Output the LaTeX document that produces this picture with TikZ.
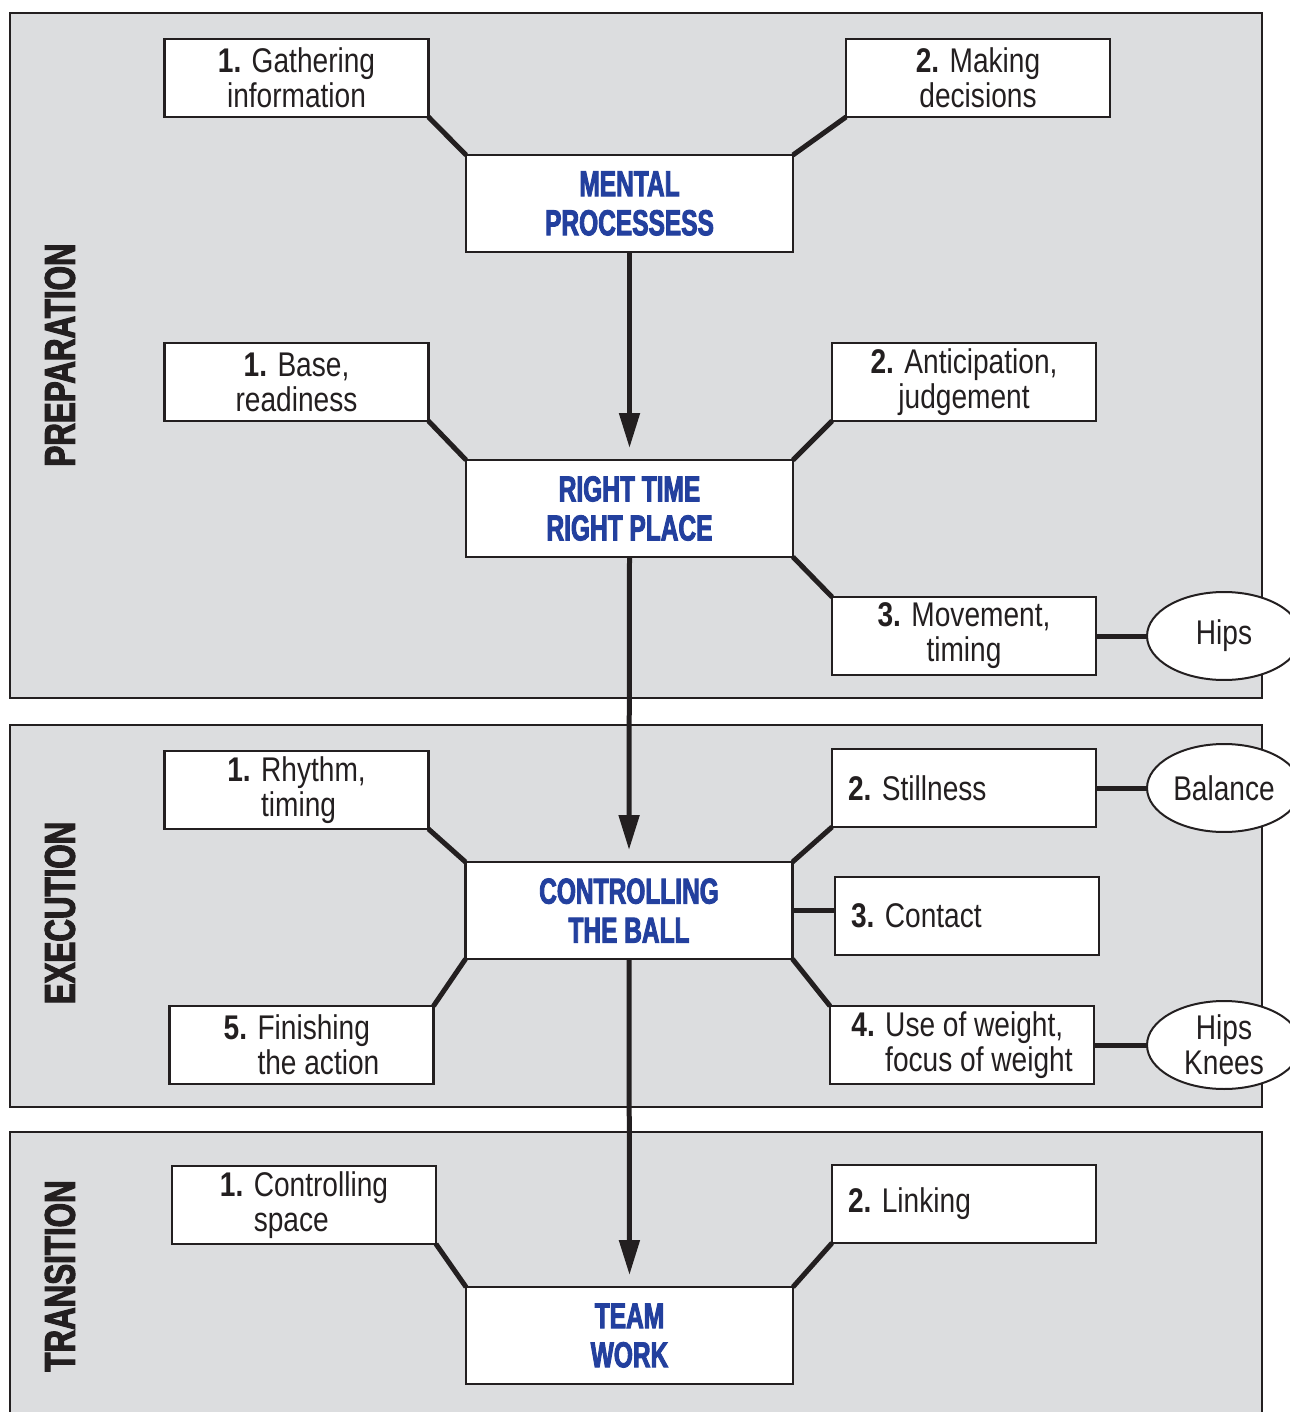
\documentclass[tikz,border=0pt]{standalone}
\usepackage{fontspec}
\setmainfont[FakeStretch=0.82]{Liberation Sans}
\newfontfamily\headfont[FakeStretch=0.68, BoldFeatures={FakeBold=2.5}]{Liberation Sans}
\newfontfamily\sidefont[FakeStretch=0.73, BoldFeatures={FakeBold=2.5}]{Liberation Sans}
\usepackage{tikz}
\usetikzlibrary{arrows.meta,shapes.geometric}
\definecolor{panelgray}{RGB}{220,221,223}
\definecolor{headblue}{RGB}{35,64,158}
\definecolor{inkblack}{RGB}{35,31,32}

\begin{document}
\begin{tikzpicture}[x=0.02cm,y=-0.02cm,
  every node/.style={outer sep=0pt},
  panel/.style={fill=panelgray, draw=inkblack, line width=0.04cm},
  item/.style={draw=inkblack, fill=white, line width=0.055cm, minimum width=5.28cm, minimum height=1.56cm, inner sep=0pt, align=center, text=inkblack, font=\fontsize{19.5}{20}\selectfont},
  itemleft/.style={item, text width=4.64cm, inner xsep=0.32cm, align=flush left},
  hub/.style={draw=inkblack, fill=white, line width=0.055cm, minimum width=6.54cm, minimum height=1.94cm, inner sep=0pt, align=center, text=headblue, font=\headfont\bfseries\fontsize{20.5}{22.2}\selectfont},
  body/.style={ellipse, draw=inkblack, fill=white, line width=0.04cm, minimum width=3.08cm, minimum height=1.76cm, inner sep=0pt, align=center, text=inkblack, font=\fontsize{19.5}{20}\selectfont},
  side/.style={rotate=90, text=inkblack, font=\sidefont\bfseries\fontsize{24.4}{26}\selectfont},
  link/.style={draw=inkblack, line width=0.1cm},
  flow/.style={draw=inkblack, line width=0.1cm, -{Triangle[length=0.7cm,width=0.4cm]}, shorten >=0.24cm}]
\clip (0,0) rectangle (1290,1412);

\draw[panel] (10,13) rectangle (1262,698);
\draw[panel] (10,725) rectangle (1262,1107);
\draw[panel] (10,1132) rectangle (1262,1440);

\node[side] (prep) at (60,355) {PREPARATION};
\node[side] (exec) at (60,913) {EXECUTION};
\node[side] (trans) at (60,1276) {TRANSITION};

\node[item] (g1) at (296.5,78) {\textbf{1.} Gathering\\information};
\node[item] (g2) at (978,78) {\textbf{2.} Making\\decisions};
\node[hub] (mp) at (629.5,203.5) {MENTAL\\PROCESSESS};
\node[item] (b1) at (296.5,382) {\textbf{1.} Base,\\readiness};
\node[item] (b2) at (964,382) {\textbf{2.} Anticipation,\\judgement};
\node[hub] (rt) at (629.5,508.5) {RIGHT TIME\\RIGHT PLACE};
\node[item] (b3) at (964,636) {\textbf{3.} Movement,\\timing};
\node[body] (hips) at (1224,636) {Hips};

\node[item, align=left] (e1) at (296.5,790) {\textbf{1.} Rhythm,\\\hphantom{\textbf{1.} }timing};
\node[itemleft] (e2) at (964,788) {\textbf{2.} Stillness};
\node[body] (balance) at (1224,788) {Balance};
\node[hub] (cb) at (629,910.5) {CONTROLLING\\THE BALL};
\node[itemleft] (e3) at (967,916) {\textbf{3.} Contact};
\node[item, align=left] (e4) at (962,1045) {\textbf{4.} Use of weight,\\\hphantom{\textbf{4.} }focus of weight};
\node[body] (knees) at (1224,1045) {Hips\\Knees};
\node[item, align=left] (e5) at (301.5,1045) {\textbf{5.} Finishing\\\hphantom{\textbf{5.} }the action};

\node[item, align=left] (t1) at (304,1205) {\textbf{1.} Controlling\\\hphantom{\textbf{1.} }space};
\node[itemleft] (t2) at (964,1204) {\textbf{2.} Linking};
\node[hub] (tw) at (629.5,1335.5) {TEAM\\WORK};

\draw[link] (g1.south east) -- (mp.north west);
\draw[link] (g2.south west) -- (mp.north east);
\draw[link] (b1.south east) -- (rt.north west);
\draw[link] (b2.south west) -- (rt.north east);
\draw[link] (rt.south east) -- (b3.north west);
\draw[link] (b3.east) -- (hips.west);
\draw[link] (e1.south east) -- (cb.north west);
\draw[link] (e2.south west) -- (cb.north east);
\draw[link] (e2.east) -- (balance.west);
\draw[link] (cb.east) -- (cb.east -| e3.west);
\draw[link] (cb.south east) -- (e4.north west);
\draw[link] (cb.south west) -- (e5.north east);
\draw[link] (e4.east) -- (knees.west);
\draw[link] (t1.south east) -- (tw.north west);
\draw[link] (t2.south west) -- (tw.north east);

\draw[flow] (mp.south) -- (rt.north);
\draw[flow] (rt.south) -- (cb.north);
\draw[flow] (cb.south) -- (tw.north);
\end{tikzpicture}
\end{document}
